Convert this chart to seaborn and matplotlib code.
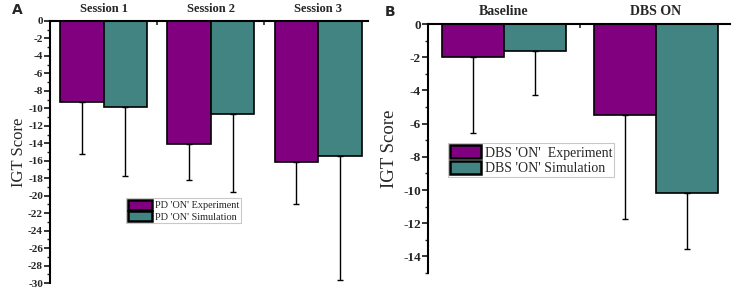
import matplotlib
matplotlib.use("Agg")
import matplotlib.pyplot as plt
from matplotlib.ticker import MultipleLocator, FixedLocator
import seaborn as sns
import pandas as pd

# ---- data ----
sessions = ["Session 1", "Session 2", "Session 3"]
pd_exp_mean = [-9.25, -14.1, -16.2]
pd_exp_sd = [5.95, 4.1, 4.8]
pd_sim_mean = [-9.8, -10.6, -15.5]
pd_sim_sd = [7.9, 9.0, 14.1]
series_a = ["PD 'ON' Experiment", "PD 'ON' Simulation"]

conditions = ["Baseline", "DBS ON"]
dbs_exp_mean = [-2.0, -5.48]
dbs_exp_sd = [4.58, 6.27]
dbs_sim_mean = [-1.6, -10.2]
dbs_sim_sd = [2.68, 3.37]
series_b = ["DBS 'ON'  Experiment", "DBS 'ON' Simulation"]

colors = ["#800080", "#418482"]

sns.set_style("white")
plt.rcParams["font.family"] = ["Liberation Serif", "DejaVu Serif"]
plt.rcParams["axes.unicode_minus"] = False

fig = plt.figure(figsize=(7.37, 2.90), dpi=100)
axA = fig.add_axes([0.0678, 0.0241, 0.4315, 0.9035])
axB = fig.add_axes([0.5807, 0.0586, 0.4098, 0.8586])


def make_panel(ax, cats, m1, s1, m2, s2, names, ylim, xlim, tick_fs, title_fs,
               leg_fs, leg_anchor, hl):
    df = pd.DataFrame({
        "cat": cats + cats,
        "val": m1 + m2,
        "series": [names[0]] * len(cats) + [names[1]] * len(cats),
    })
    sns.barplot(data=df, x="cat", y="val", hue="series", order=cats,
                hue_order=names, palette=colors, width=0.81, errorbar=None,
                edgecolor="black", linewidth=1.2, saturation=1, ax=ax)
    sds = [s1, s2]
    for cont, sd in zip(ax.containers, sds):
        xs = [b.get_x() + b.get_width() / 2 for b in cont]
        ys = [b.get_height() for b in cont]
        ax.errorbar(xs, ys, yerr=[sd, [0] * len(sd)], fmt="none",
                    ecolor="black", elinewidth=1.0, capsize=2.5,
                    capthick=1.0, zorder=1)
    ax.set_ylim(*ylim)
    ax.set_xlim(*xlim)
    ax.yaxis.set_major_locator(MultipleLocator(2))
    ax.yaxis.set_minor_locator(MultipleLocator(1))
    ax.tick_params(axis="y", which="major", direction="out", length=4,
                   width=1.3, labelsize=tick_fs, pad=1, left=True)
    ax.tick_params(axis="y", which="minor", direction="out", length=2,
                   width=1.0, left=True)
    for lab in ax.get_yticklabels():
        lab.set_fontweight("bold")
    ax.xaxis.tick_top()
    ax.xaxis.set_minor_locator(FixedLocator([i + 0.5 for i in range(len(cats) - 1)]))
    ax.tick_params(axis="x", which="major", length=0, pad=4,
                   labelsize=title_fs)
    ax.tick_params(axis="x", which="minor", direction="in", length=3,
                   width=1.2, top=True, bottom=False)
    for lab in ax.get_xticklabels():
        lab.set_fontweight("bold")
    ax.set_xlabel("")
    for sp in ["right", "bottom"]:
        ax.spines[sp].set_visible(False)
    for sp in ["left", "top"]:
        ax.spines[sp].set_linewidth(1.5)
        ax.spines[sp].set_color("black")
    leg = ax.legend(loc="upper left", bbox_to_anchor=leg_anchor,
                    fontsize=leg_fs, frameon=True, fancybox=False,
                    handlelength=hl, handleheight=1.1, labelspacing=0.1,
                    handletextpad=0.3, borderpad=0.15, borderaxespad=0)
    leg.get_frame().set_edgecolor("#bbbbbb")
    leg.get_frame().set_linewidth(0.8)
    for h in leg.legend_handles:
        h.set_linewidth(1.8)


make_panel(axA, sessions, pd_exp_mean, pd_exp_sd, pd_sim_mean, pd_sim_sd,
           series_a, (-30, 0), (-0.5, 2.465), 8, 9, 7.4, (0.239, 0.324), 2.4)
make_panel(axB, conditions, dbs_exp_mean, dbs_exp_sd, dbs_sim_mean, dbs_sim_sd,
           series_b, (-15, 0), (-0.5, 1.487), 9.5, 10, 10, (0.066, 0.522), 2.2)

axA.set_ylabel("IGT Score", fontsize=12, labelpad=1)
axB.set_ylabel("IGT Score", fontsize=13.5, labelpad=4)

fig.text(12 / 737, 1 - 10 / 290, "A", fontsize=10, fontweight="bold",
         family="DejaVu Sans", ha="left", va="center")
fig.text(385 / 737, 1 - 12 / 290, "B", fontsize=10, fontweight="bold",
         family="DejaVu Sans", ha="left", va="center")

fig.savefig("out.png", dpi=100)
